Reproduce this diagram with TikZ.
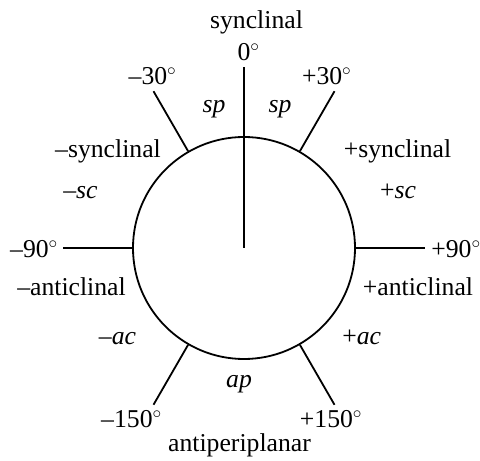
\documentclass[tikz,border=0pt]{standalone}
\usepackage{fontspec}
\setmainfont{Liberation Serif}
\usepackage{tikz}
\usetikzlibrary{calc}

\newcommand{\dg}{$^{\circ}$}

\begin{document}
\begin{tikzpicture}[
			x=1pt, y=1pt,
			ring/.style={circle, draw, line width=1.8pt, minimum size=222pt, inner sep=0pt},
			tick/.style={line width=1.8pt},
			lbl/.style={anchor=base, inner sep=0pt, font=\fontsize{25.7}{30}\selectfont}
			]
			\useasboundingbox (0,0) rectangle (480,461);
			
			\coordinate (c) at (244,213);
			\node[ring] (ring) at (c) {};
			
			\coordinate (e0) at ($(c)+(90:181)$);
			\coordinate (em30) at ($(c)+(120:181)$);
			\coordinate (ep30) at ($(c)+(60:181)$);
			\coordinate (em90) at ($(c)+(180:181)$);
			\coordinate (ep90) at ($(c)+(0:181)$);
			\coordinate (em150) at ($(c)+(240:181)$);
			\coordinate (ep150) at ($(c)+(300:181)$);
			
			\draw[tick] (c) -- (e0);
			\draw[tick] (ring.120) -- (em30);
			\draw[tick] (ring.60) -- (ep30);
			\draw[tick] (ring.180) -- (em90);
			\draw[tick] (ring.0) -- (ep90);
			\draw[tick] (ring.240) -- (em150);
			\draw[tick] (ring.300) -- (ep150);
			
			% angles
			\node[lbl] (syn) at (256.5,432) {synclinal};
			\node[lbl] (a0) at (248.5,400) {0\dg};
			\node[lbl] (am30) at (152.5,376) {–30\dg};
			\node[lbl] (ap30) at (326.7,376) {+30\dg};
			\node[lbl] (am90) at (34,203) {–90\dg};
			\node[lbl] (ap90) at (456,203) {+90\dg};
			\node[lbl] (am150) at (131.5,33) {–150\dg};
			\node[lbl] (ap150) at (331,33) {+150\dg};
			\node[lbl] (anti) at (239.5,9) {antiperiplanar};
			
			% sectors
			\node[lbl] (spl) at (214,348) {\textit{sp}};
			\node[lbl] (spr) at (280,348) {\textit{sp}};
			\node[lbl] (msyn) at (108,303) {–synclinal};
			\node[lbl] (psyn) at (397.5,303) {+synclinal};
			\node[lbl] (msc) at (80.5,262) {–\textit{sc}};
			\node[lbl] (psc) at (398,262) {+\textit{sc}};
			\node[lbl] (manti) at (71.5,165) {–anticlinal};
			\node[lbl] (panti) at (418,165) {+anticlinal};
			\node[lbl] (mac) at (117.5,116) {–\textit{ac}};
			\node[lbl] (pac) at (361.7,116) {+\textit{ac}};
			\node[lbl] (ap) at (239,73) {\textit{ap}};
		\end{tikzpicture}
\end{document}
